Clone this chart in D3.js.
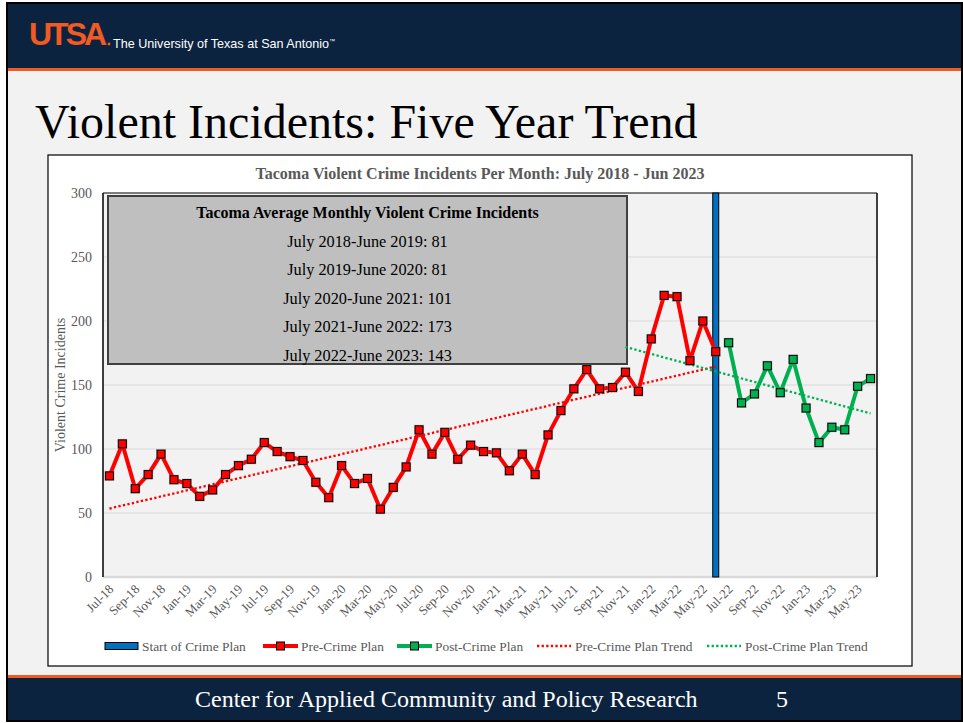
<!DOCTYPE html>
<html>
<head>
<meta charset="utf-8">
<script src="https://cdn.jsdelivr.net/npm/d3@7"></script>
<style>
html,body{margin:0;padding:0;background:#ffffff;}
svg{display:block;}
</style>
</head>
<body>
<svg id="slide" width="963" height="723"></svg>
<script>
// ---------------- data ----------------
const months = ["Jul-18","Aug-18","Sep-18","Oct-18","Nov-18","Dec-18","Jan-19","Feb-19","Mar-19","Apr-19","May-19","Jun-19",
  "Jul-19","Aug-19","Sep-19","Oct-19","Nov-19","Dec-19","Jan-20","Feb-20","Mar-20","Apr-20","May-20","Jun-20",
  "Jul-20","Aug-20","Sep-20","Oct-20","Nov-20","Dec-20","Jan-21","Feb-21","Mar-21","Apr-21","May-21","Jun-21",
  "Jul-21","Aug-21","Sep-21","Oct-21","Nov-21","Dec-21","Jan-22","Feb-22","Mar-22","Apr-22","May-22","Jun-22",
  "Jul-22","Aug-22","Sep-22","Oct-22","Nov-22","Dec-22","Jan-23","Feb-23","Mar-23","Apr-23","May-23","Jun-23"];
const preMonths = months.slice(0, 48);
const postMonths = months.slice(48);
const preCrime = [79,104,69,80,96,76,73,63,68,80,87,92,
  105,98,94,91,74,62,87,73,77,53,70,86,
  115,96,113,92,103,98,97,83,96,80,111,130,
  147,162,147,148,160,145,186,220,219,169,200,176];
const postCrime = [183,136,143,165,144,170,132,105,117,115,149,155];
const planStartMonth = ["Jun-22"];
const planStartValue = [300];
const postTrendBackward = 8; // periods of backward forecast on post trend
const yTicks = [0,50,100,150,200,250,300];
const xTickLabels = months.filter((m,i)=> i % 2 === 0);
const averageTitle = "Tacoma Average Monthly Violent Crime Incidents";
const averageLines = ["July 2018-June 2019: 81","July 2019-June 2020: 81","July 2020-June 2021: 101","July 2021-June 2022: 173","July 2022-June 2023: 143"];
const legendItems = ["Start of Crime Plan","Pre-Crime Plan","Post-Crime Plan","Pre-Crime Plan Trend","Post-Crime Plan Trend"];

// ---------------- layout ----------------
const svg = d3.select("#slide");
const NAVY = "#0c2340", ORANGE = "#f15a22";
const SERIF = "'Liberation Serif','Times New Roman',serif";
const SANS = "'Liberation Sans',Arial,sans-serif";

// slide background
svg.append("rect").attr("x",7).attr("y",3).attr("width",955).attr("height",718).attr("fill","#f2f2f2");
// header
svg.append("rect").attr("x",7).attr("y",3).attr("width",955).attr("height",65).attr("fill",NAVY);
svg.append("rect").attr("x",7).attr("y",68).attr("width",955).attr("height",3).attr("fill",ORANGE);
svg.append("text").attr("x",29).attr("y",45).attr("fill",ORANGE)
  .attr("font-family",SANS).attr("font-weight","bold").attr("font-size",32).attr("letter-spacing",-3)
  .text("UTSA");
svg.append("circle").attr("cx",109).attr("cy",44).attr("r",1.4).attr("fill",ORANGE);
const univ = svg.append("text").attr("x",113).attr("y",48).attr("fill","#ffffff")
  .attr("font-family",SANS).attr("font-size",12.6).text("The University of Texas at San Antonio");
univ.append("tspan").attr("font-size",6).attr("dy",-5).text("™");

// footer
svg.append("rect").attr("x",7).attr("y",675).attr("width",955).attr("height",3).attr("fill",ORANGE);
svg.append("rect").attr("x",7).attr("y",678).attr("width",955).attr("height",43).attr("fill",NAVY);
svg.append("text").attr("x",195).attr("y",707).attr("fill","#ffffff")
  .attr("font-family",SERIF).attr("font-size",24).text("Center for Applied Community and Policy Research");
svg.append("text").attr("x",776).attr("y",707).attr("fill","#ffffff")
  .attr("font-family",SERIF).attr("font-size",24).text("5");
// frame
svg.append("rect").attr("x",7).attr("y",3).attr("width",955).attr("height",718)
  .attr("fill","none").attr("stroke","#000").attr("stroke-width",2);

// slide title
svg.append("text").attr("x",35).attr("y",138).attr("fill","#000")
  .attr("font-family",SERIF).attr("font-size",48).text("Violent Incidents: Five Year Trend");

// chart box
svg.append("rect").attr("x",48).attr("y",155).attr("width",864).attr("height",511)
  .attr("fill","#ffffff").attr("stroke","#000").attr("stroke-width",1.2);
svg.append("text").attr("x",480).attr("y",179).attr("text-anchor","middle").attr("fill","#595959")
  .attr("font-family",SERIF).attr("font-weight","bold").attr("font-size",16)
  .text("Tacoma Violent Crime Incidents Per Month: July 2018 - Jun 2023");

const plot = {left:103, right:877, top:193, bottom:577};
const x = d3.scaleBand().domain(months).range([plot.left, plot.right]).padding(0);
const cx = m => x(m) + x.bandwidth()/2;
const y = d3.scaleLinear().domain([0,300]).range([plot.bottom, plot.top]);

// plot area
svg.append("rect").attr("x",plot.left).attr("y",plot.top).attr("width",plot.right-plot.left)
  .attr("height",plot.bottom-plot.top).attr("fill","#f2f2f2");
// gridlines
svg.append("g").selectAll("line").data(yTicks.filter(t=>t>0 && t<300)).join("line")
  .attr("x1",plot.left).attr("x2",plot.right).attr("y1",d=>y(d)).attr("y2",d=>y(d))
  .attr("stroke","#d9d9d9").attr("stroke-width",1);

// y axis
const yAxis = svg.append("g").attr("transform",`translate(${plot.left},0)`)
  .call(d3.axisLeft(y).tickValues(yTicks).tickSize(0).tickPadding(11));
yAxis.select(".domain").remove();
yAxis.selectAll("text").attr("font-family",SERIF).attr("font-size",14).attr("fill","#595959");

svg.append("text").attr("transform",`translate(65,385) rotate(-90)`).attr("text-anchor","middle")
  .attr("fill","#595959").attr("font-family",SERIF).attr("font-size",14).text("Violent Crime Incidents");

// x axis
const xAxis = svg.append("g").attr("transform",`translate(0,${plot.bottom})`)
  .call(d3.axisBottom(x).tickValues(xTickLabels).tickSize(0).tickPadding(0));
xAxis.select(".domain").remove();
xAxis.selectAll("text")
  .attr("font-family",SERIF).attr("font-size",13).attr("fill","#595959")
  .attr("text-anchor","end").attr("dy",null).attr("y",null)
  .attr("transform","translate(5,13) rotate(-45)");

// bottom axis line (gray) and borders
svg.append("line").attr("x1",plot.left).attr("x2",plot.right).attr("y1",plot.bottom).attr("y2",plot.bottom)
  .attr("stroke","#d9d9d9").attr("stroke-width",2.5);
svg.append("line").attr("x1",plot.left).attr("x2",plot.right).attr("y1",plot.top).attr("y2",plot.top)
  .attr("stroke","#000").attr("stroke-width",1.2);
svg.append("line").attr("x1",plot.left).attr("x2",plot.left).attr("y1",plot.top).attr("y2",plot.bottom)
  .attr("stroke","#000").attr("stroke-width",1.5);
svg.append("line").attr("x1",plot.right).attr("x2",plot.right).attr("y1",plot.top).attr("y2",plot.bottom)
  .attr("stroke","#000").attr("stroke-width",1.5);

// start of crime plan bar
svg.append("g").selectAll("rect").data(planStartMonth.map((m,i)=>({m, v:planStartValue[i]}))).join("rect")
  .attr("x",d=>cx(d.m)-3).attr("width",6).attr("y",d=>y(d.v)).attr("height",d=>y(0)-y(d.v))
  .attr("fill","#0070c0").attr("stroke","#000").attr("stroke-width",1);

// averages box
const box = {x:108, y:196, w:519, h:168};
svg.append("rect").attr("x",box.x).attr("y",box.y).attr("width",box.w).attr("height",box.h)
  .attr("fill","#bfbfbf").attr("stroke","#404040").attr("stroke-width",2);
const boxCx = box.x + box.w/2;
svg.append("text").attr("x",boxCx).attr("y",218).attr("text-anchor","middle").attr("fill","#000")
  .attr("font-family",SERIF).attr("font-weight","bold").attr("font-size",16).text(averageTitle);
svg.append("g").selectAll("text").data(averageLines).join("text")
  .attr("x",boxCx).attr("y",(d,i)=>247 + i*28.4).attr("text-anchor","middle").attr("fill","#000")
  .attr("font-family",SERIF).attr("font-size",16.3).text(d=>d);

// trend lines (linear least squares)
function fit(vals){
  const n = vals.length, xs = d3.range(n);
  const mx = d3.mean(xs), my = d3.mean(vals);
  const b = d3.sum(xs.map((xv,i)=>(xv-mx)*(vals[i]-my))) / d3.sum(xs.map(xv=>(xv-mx)*(xv-mx)));
  return t => my + b*(t-mx);
}
const preFit = fit(preCrime), postFit = fit(postCrime);
const line = d3.line().x(d=>d.x).y(d=>y(d.v));
const preTrend = [{x:cx(preMonths[0]), v:preFit(0)}, {x:cx(preMonths[preMonths.length-1]), v:preFit(preMonths.length-1)}];
const postStartIdx = months.indexOf(postMonths[0]) - postTrendBackward;
const postTrend = [{x:cx(months[postStartIdx]), v:postFit(-postTrendBackward)}, {x:cx(postMonths[postMonths.length-1]), v:postFit(postMonths.length-1)}];
svg.append("path").attr("d",line(preTrend)).attr("fill","none").attr("stroke","#ff0000")
  .attr("stroke-width",2.3).attr("stroke-dasharray","2.3,2.3");
svg.append("path").attr("d",line(postTrend)).attr("fill","none").attr("stroke","#00b050")
  .attr("stroke-width",2.3).attr("stroke-dasharray","2.3,2.3");

// series
function drawSeries(ms, vals, color){
  const pts = ms.map((m,i)=>({x:cx(m), v:vals[i]}));
  svg.append("path").attr("d",line(pts)).attr("fill","none").attr("stroke",color)
    .attr("stroke-width",4).attr("stroke-linejoin","round");
  const g = svg.append("g");
  g.selectAll("rect.sh").data(pts).join("rect").attr("class","sh")
    .attr("x",d=>d.x-5).attr("y",d=>y(d.v)-5).attr("width",10).attr("height",10)
    .attr("fill","#7f7f7f").attr("opacity",0.45);
  g.selectAll("rect.mk").data(pts).join("rect").attr("class","mk")
    .attr("x",d=>d.x-4).attr("y",d=>y(d.v)-4).attr("width",8).attr("height",8)
    .attr("fill",color).attr("stroke","#000").attr("stroke-width",1);
}
drawSeries(preMonths, preCrime, "#ff0000");
drawSeries(postMonths, postCrime, "#00b050");

// legend
const lg = svg.append("g").attr("font-family",SERIF).attr("font-size",13.4).attr("fill","#595959");
const ly = 646;
const legendX = [105, 263, 397, 537, 707];
const textX = [142, 301, 435, 575, 745];
lg.append("rect").attr("x",legendX[0]).attr("y",ly-3.5).attr("width",33).attr("height",7)
  .attr("fill","#0070c0").attr("stroke","#000").attr("stroke-width",1);
[["#ff0000",1],["#00b050",2]].forEach(([c,i])=>{
  lg.append("line").attr("x1",legendX[i]).attr("x2",legendX[i]+35).attr("y1",ly).attr("y2",ly)
    .attr("stroke",c).attr("stroke-width",4);
  lg.append("rect").attr("x",legendX[i]+13.5).attr("y",ly-4).attr("width",8).attr("height",8)
    .attr("fill",c).attr("stroke","#000").attr("stroke-width",1);
});
[["#ff0000",3],["#00b050",4]].forEach(([c,i])=>{
  lg.append("line").attr("x1",legendX[i]).attr("x2",legendX[i]+34).attr("y1",ly).attr("y2",ly)
    .attr("stroke",c).attr("stroke-width",2.3).attr("stroke-dasharray","2.3,2.3");
});
lg.selectAll("text.lt").data(legendItems).join("text").attr("class","lt")
  .attr("x",(d,i)=>textX[i]).attr("y",ly+4.5).text(d=>d);
</script>
</body>
</html>
